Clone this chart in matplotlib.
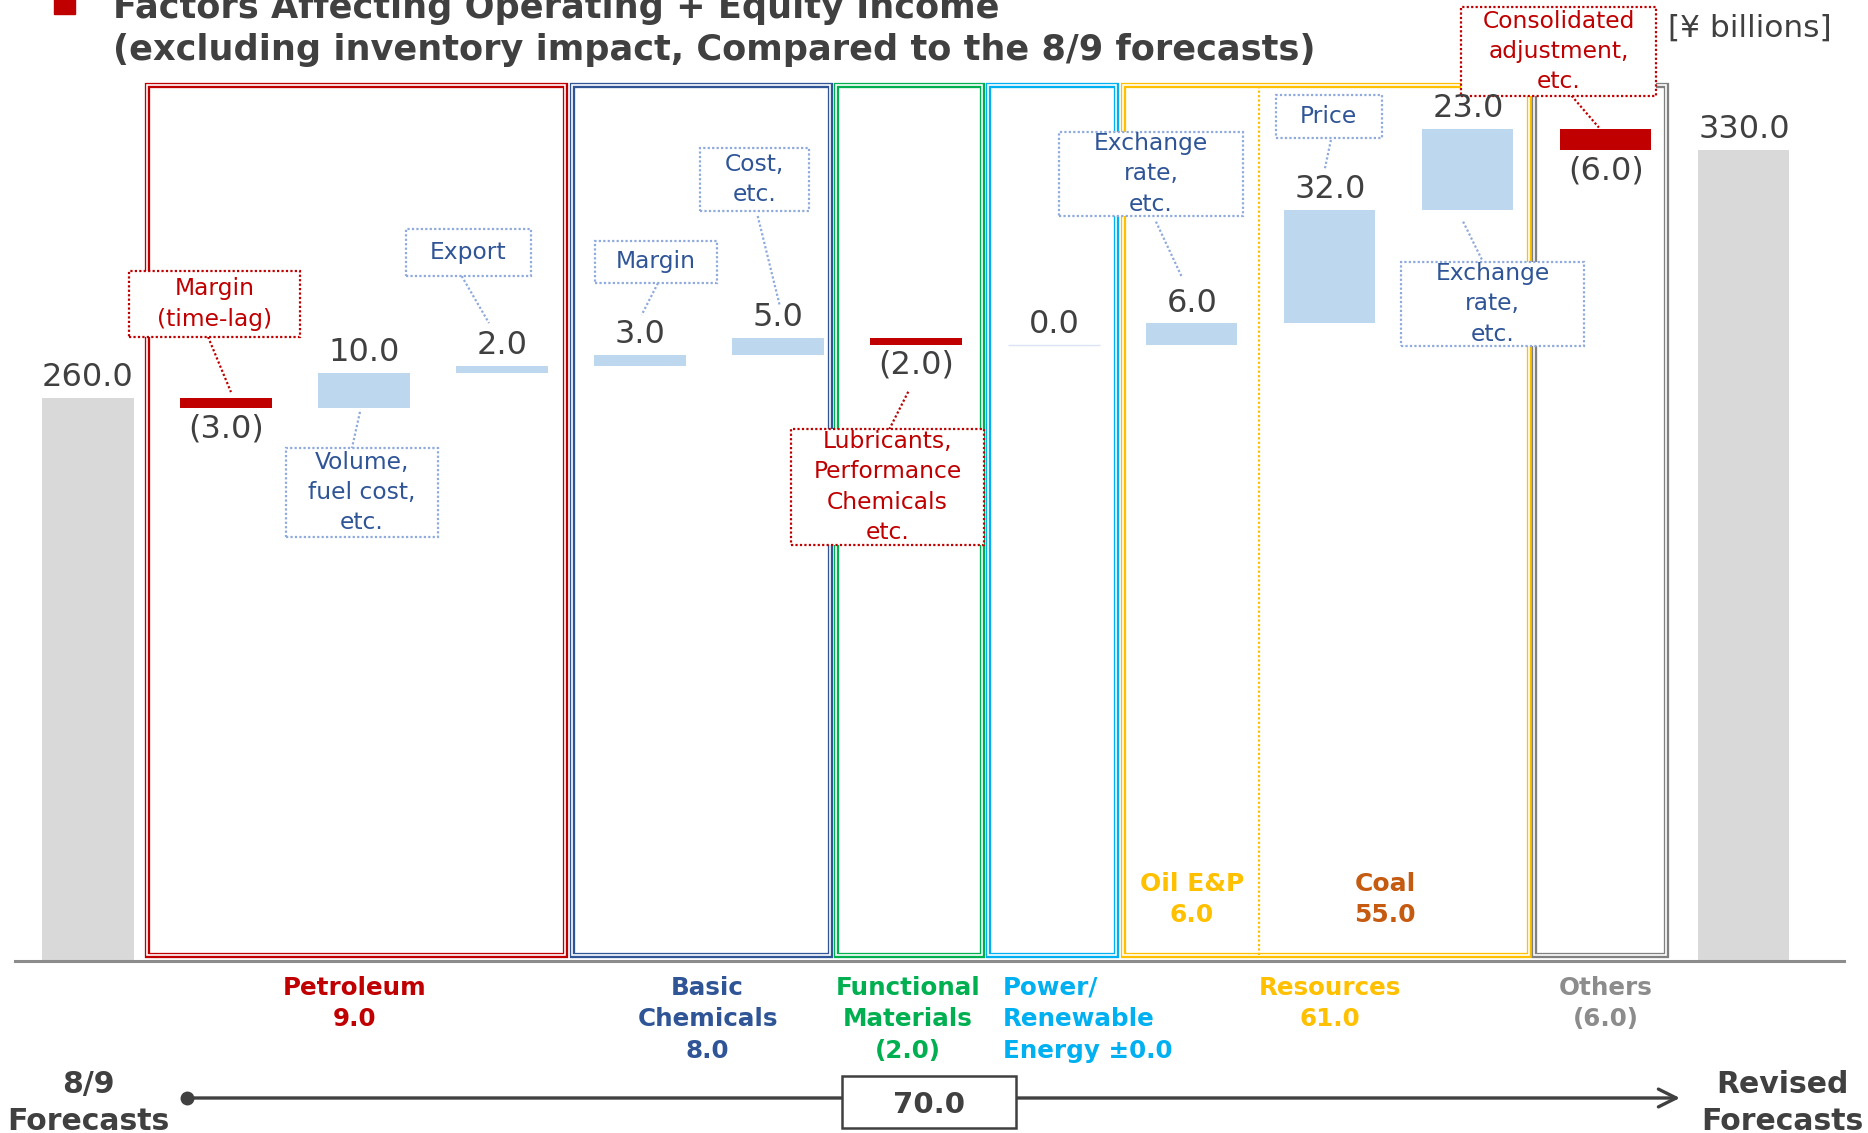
import matplotlib.pyplot as plt
from matplotlib.patches import Rectangle

plt.rcParams['font.family'] = ['DejaVu Sans']

# ---------- values (¥ billions) ----------
start_value = 260.0
end_value = 330.0
changes = [-3.0, 10.0, 2.0, 3.0, 5.0, -2.0, 0.0, 6.0, 32.0, 23.0, -6.0]
total_change = 70.0

segment_names = ["Petroleum", "Basic\nChemicals", "Functional\nMaterials",
                 "Power/\nRenewable\nEnergy", "Resources", "Others"]
segment_values = [9.0, 8.0, -2.0, 0.0, 61.0, -6.0]
resource_names = ["Oil E&P", "Coal"]
resource_values = [6.0, 55.0]

callout_texts = ["Margin\n(time-lag)", "Volume,\nfuel cost,\netc.", "Export",
                 "Margin", "Cost,\netc.",
                 "Lubricants,\nPerformance\nChemicals\netc.",
                 "Exchange\nrate,\netc.", "Price", "Exchange\nrate,\netc.",
                 "Consolidated\nadjustment,\netc."]

# ---------- layout ----------
TEXT = "#404040"
GRAY, BLUE, RED = "#D9D9D9", "#BDD7EE", "#C00000"
FLOOR = 100.7          # value sitting on the baseline (axis is cut)
BAR_W = 0.66
VAL_SIZE = 23

seg_colors = ["#C00000", "#2F5597", "#00B050", "#00B0F0", "#FFC000", "#808080"]
seg_frames = [(0.428, 3.457), (3.507, 5.377), (5.424, 6.475),
              (6.525, 7.453), (7.50, 10.442), (10.478, 11.435)]
FRAME_TOP, FRAME_BOTTOM = 348.4, 102.4
seg_label_x = [1.93, 4.49, 5.94, 6.63, 9.0, 11.0]
seg_label_ha = ["center", "center", "center", "left", "center", "center"]
resource_x = [8.0, 9.40]
resource_colors = ["#FFC000", "#C55A11"]
resource_divider = 8.486

# callout boxes: centre x, centre y, width, height, red?, leader start, leader end
callout_layout = [
    (0.917, 286.5, 1.239, 18.7, True, (0.870, 277.2), (1.036, 261.6)),
    (1.984, 233.2, 1.104, 25.1, False, (1.971, 256.0), (1.913, 245.8)),
    (2.756, 301.1, 0.908, 13.3, False, (2.708, 294.4), (2.906, 281.1)),
    (4.114, 298.4, 0.884, 11.8, False, (4.130, 292.4), (4.012, 283.4)),
    (4.831, 321.8, 0.792, 17.8, False, (4.853, 311.4), (5.014, 285.9)),
    (5.795, 234.7, 1.401, 32.7, True, (5.944, 261.7), (5.807, 251.1)),
    (7.703, 323.3, 1.333, 23.8, False, (7.739, 309.8), (7.926, 294.2)),
    (8.991, 339.6, 0.769, 12.1, False, (9.007, 332.9), (8.961, 324.4)),
    (10.179, 286.6, 1.323, 23.8, False, (9.965, 309.8), (10.108, 298.5)),
    (10.656, 357.9, 1.413, 25.0, True, (10.751, 345.4), (10.949, 336.4)),
]

fig = plt.figure(figsize=(18.68, 11.33), dpi=100)
ax = fig.add_axes([0, 0, 1, 1])
ax.set_xlim(-0.6377, 12.899)
ax.set_ylim(52.06, 372.48)
ax.axis("off")

# ---------- segment frames (double line) ----------
for (x0, x1), c in zip(seg_frames, seg_colors):
    for lw, col in ((3.8, c), (1.2, "white")):
        ax.add_patch(Rectangle((x0, FRAME_BOTTOM), x1 - x0, FRAME_TOP - FRAME_BOTTOM,
                               fill=False, edgecolor=col, lw=lw, zorder=1))
ax.plot([resource_divider, resource_divider], [FRAME_BOTTOM, FRAME_TOP],
        color="#FFC000", lw=1.6, ls=(0, (1, 1)), zorder=1)

# ---------- waterfall bars ----------
n = len(changes)
level = start_value
ax.bar(0, start_value - FLOOR, bottom=FLOOR, width=BAR_W, color=GRAY, zorder=2)
ax.text(0, start_value + 1.4, f"{start_value:.1f}", ha="center", va="bottom",
        fontsize=VAL_SIZE, color=TEXT, zorder=5)
for i, d in enumerate(changes, start=1):
    new = level + d
    if d == 0:
        ax.bar(i, 0, bottom=level, width=BAR_W, color="none",
               edgecolor="#DAE3F3", lw=1, zorder=2)
    else:
        ax.bar(i, d, bottom=level, width=BAR_W,
               color=BLUE if d > 0 else RED, zorder=2)
    if d >= 0:
        ax.text(i, max(level, new) + 1.4, f"{d:.1f}", ha="center", va="bottom",
                fontsize=VAL_SIZE, color=TEXT, zorder=5)
    else:
        ax.text(i, min(level, new) - 1.4, f"({abs(d):.1f})", ha="center", va="top",
                fontsize=VAL_SIZE, color=TEXT, zorder=5)
    level = new
ax.bar(n + 1, end_value - FLOOR, bottom=FLOOR, width=BAR_W, color=GRAY, zorder=2)
ax.text(n + 1, end_value + 1.4, f"{end_value:.1f}", ha="center", va="bottom",
        fontsize=VAL_SIZE, color=TEXT, zorder=5)

# baseline
ax.plot([-0.529, 12.725], [FLOOR, FLOOR], color="#8C8C8C", lw=2.2, zorder=3)

# ---------- callouts ----------
for txt, (cx, cy, w, h, red, p0, p1) in zip(callout_texts, callout_layout):
    edge = RED if red else "#8FAADC"
    ax.add_patch(Rectangle((cx - w / 2, cy - h / 2), w, h, facecolor="white",
                           edgecolor=edge, lw=1.6, ls=(0, (1, 1)), zorder=4))
    ax.plot([p0[0], p1[0]], [p0[1], p1[1]], color=edge, lw=1.6,
            ls=(0, (1, 1)), zorder=3)
    ax.text(cx, cy, txt, ha="center", va="center", fontsize=16.8,
            color=RED if red else "#2F5597", linespacing=1.41, zorder=5)

# ---------- segment labels ----------
def fmt(v, signed=False):
    if v < 0:
        return f"({abs(v):.1f})"
    if v == 0 and signed:
        return "\u00b10.0"
    return f"{v:.1f}"

for name, v, x, ha, c in zip(segment_names, segment_values, seg_label_x,
                             seg_label_ha, seg_colors):
    label = f"{name} {fmt(v, True)}" if v == 0 else f"{name}\n{fmt(v)}"
    ax.text(x, 96.5, label, ha=ha, va="top", fontsize=17.7, fontweight="bold",
            color=c if c != "#808080" else "#8C8C8C", linespacing=1.4, zorder=5)

for name, v, x, c in zip(resource_names, resource_values, resource_x, resource_colors):
    ax.text(x, 126.0, f"{name}\n{fmt(v)}", ha="center", va="top", fontsize=18,
            fontweight="bold", color=c, linespacing=1.4, zorder=5)

# ---------- total arrow ----------
arrow_y = 61.96
ax.annotate("", xy=(11.536, arrow_y), xytext=(0.717, arrow_y),
            arrowprops=dict(arrowstyle="->", lw=2.4, color=TEXT,
                            mutation_scale=32, shrinkA=0, shrinkB=0), zorder=3)
ax.plot(0.717, arrow_y, "o", ms=9, color=TEXT, zorder=3)
ax.add_patch(Rectangle((5.464, 53.5), 1.261, 14.7, facecolor="white",
                       edgecolor=TEXT, lw=1.8, zorder=4))
ax.text(6.095, 60.0, f"{total_change:.1f}", ha="center", va="center",
        fontsize=21, fontweight="bold", color=TEXT, zorder=5)

ax.text(0.0, 70.0, "8/9\nForecasts", ha="center", va="top", fontsize=21.5,
        fontweight="bold", color=TEXT, linespacing=1.35, zorder=5)
ax.text(12.28, 70.0, "Revised\nForecasts", ha="center", va="top", fontsize=21.5,
        fontweight="bold", color=TEXT, linespacing=1.35, zorder=5)

# ---------- title ----------
fig.patches.append(Rectangle((54 / 1868, 1 - 14 / 1133), 21 / 1868, 24 / 1133,
                             transform=fig.transFigure, color=RED))
fig.text(113 / 1868, 1 - 18 / 1133, "Factors Affecting Operating + Equity Income",
         va="baseline", fontsize=25.3, fontweight="bold", color=TEXT)
fig.text(113 / 1868, 1 - 60 / 1133,
         "(excluding inventory impact, Compared to the 8/9 forecasts)",
         va="baseline", fontsize=25.3, fontweight="bold", color=TEXT)
fig.text(1668 / 1868, 1 - 14 / 1133, "[\u00a5 billions]", va="top",
         fontsize=22.5, color=TEXT)

fig.savefig("out.png", dpi=100)
